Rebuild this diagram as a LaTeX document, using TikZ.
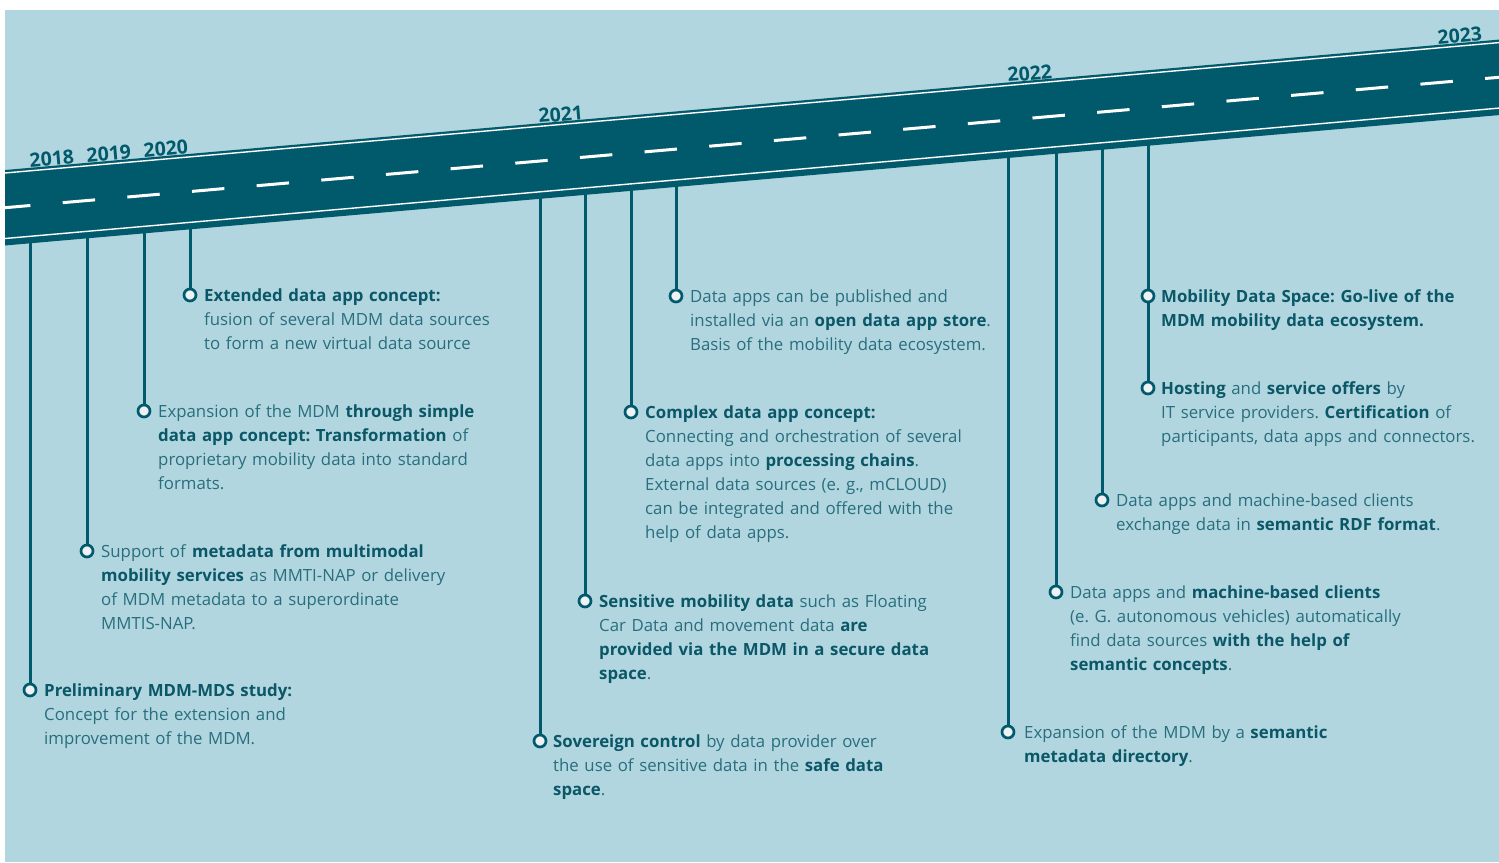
\documentclass[tikz,border=0pt]{standalone}
\usepackage{fontspec}
\setmainfont{Open Sans}
\usetikzlibrary{positioning}
\frenchspacing
\definecolor{sky}{HTML}{B2D6DF}
\definecolor{road}{HTML}{005A6B}
\definecolor{ink}{HTML}{286E7E}
\definecolor{inkdark}{HTML}{0A5767}
\definecolor{dot}{HTML}{EEF2F4}
\newcommand{\hl}[1]{\textbf{\color{inkdark}#1}}
\tikzset{
  stem/.style={draw=road, line width=3pt},
  milestone/.style={circle, draw=road, fill=dot, line width=2.7pt, minimum size=12pt, inner sep=0pt},
  entry/.style={anchor=base west, inner sep=0pt, text width=440pt, align=left, text=ink,
    font=\fontsize{16.8}{24}\selectfont},
  year/.style={anchor=base west, inner sep=0pt, text=road, rotate=4.99,
    font=\bfseries\fontsize{19.5}{20}\selectfont},
}
\begin{document}
\begin{tikzpicture}[x=1pt, y=-1pt]
\useasboundingbox (0,0) rectangle (1499,862);
\fill[white] (0,0) rectangle (1499,862);
\fill[sky] (5,10) rectangle (1499,862);

\fill[road] (5,170) -- (1499,39.6) -- (1499,115.1) -- (5,245.5) -- cycle;
\draw[white, line width=1.4pt] (5,173) -- (1499,42.6);
\draw[white, line width=1.4pt] (5,238.5) -- (1499,108.1);
\draw[white, line width=3pt, dash pattern=on 32.5pt off 32.4pt, dash phase=7pt] (5,207.7) -- (1499,77.3);

\node[year] (y2018) at (30,167.5) {2018};
\node[year] (y2019) at (87,162.5) {2019};
\node[year] (y2020) at (144,157.5) {2020};
\node[year] (y2021) at (539,123) {2021};
\node[year] (y2022) at (1008,82) {2022};
\node[year] (y2023) at (1438,44.5) {2023};

\coordinate (r1) at (30,241);
\coordinate (r2) at (87,236);
\coordinate (r3) at (144,231);
\coordinate (r4) at (190,227);
\coordinate (r5) at (540,197);
\coordinate (r6) at (585,193);
\coordinate (r7) at (631,189);
\coordinate (r8) at (676,185);
\coordinate (r9) at (1008,156);
\coordinate (r10) at (1056,152);
\coordinate (r11) at (1102,148);
\coordinate (r12) at (1148,144);

\node[milestone] (m1) at (30,690) {};
\node[milestone] (m2) at (87,551) {};
\node[milestone] (m3) at (144,411) {};
\node[milestone] (m4) at (190,295) {};
\node[milestone] (m5) at (540,741) {};
\node[milestone] (m6) at (585,601) {};
\node[milestone] (m7) at (631,412) {};
\node[milestone] (m8) at (676,296) {};
\node[milestone] (m9) at (1008,732) {};
\node[milestone] (m10) at (1056,592) {};
\node[milestone] (m11) at (1102,500) {};
\node[milestone] (m12) at (1148,388) {};
\node[milestone] (m13) at (1148,296) {};

\draw[stem] (r1) -- (m1.north);
\draw[stem] (r2) -- (m2.north);
\draw[stem] (r3) -- (m3.north);
\draw[stem] (r4) -- (m4.north);
\draw[stem] (r5) -- (m5.north);
\draw[stem] (r6) -- (m6.north);
\draw[stem] (r7) -- (m7.north);
\draw[stem] (r8) -- (m8.north);
\draw[stem] (r9) -- (m9.north);
\draw[stem] (r10) -- (m10.north);
\draw[stem] (r11) -- (m11.north);
\draw[stem] (r12) -- (m13.north);
\draw[stem] (m13.south) -- (m12.north);

\node[entry] (d1) at ([xshift=14pt, yshift=-6.5pt]m1) {\hl{Preliminary MDM-MDS study:}\\
  Concept for the extension and\\
  improvement of the MDM.};
\node[entry] (d2) at ([xshift=14pt, yshift=-6.5pt]m2) {Support of \hl{metadata from multimodal}\\
  \hl{mobility services} as MMTI-NAP or delivery\\
  of MDM metadata to a superordinate\\
  MMTIS-NAP.};
\node[entry] (d3) at ([xshift=14pt, yshift=-6.5pt]m3) {Expansion of the MDM \hl{through simple}\\
  \hl{data app concept: Transformation} of\\
  proprietary mobility data into standard\\
  formats.};
\node[entry] (d4) at ([xshift=14pt, yshift=-6.5pt]m4) {\hl{Extended data app concept:}\\
  fusion of several MDM data sources\\
  to form a new virtual data source};
\node[entry] (d5) at ([xshift=13pt, yshift=-6.5pt]m5) {\hl{Sovereign control} by data provider over\\
  the use of sensitive data in the \hl{safe data}\\
  \hl{space}.};
\node[entry] (d6) at ([xshift=14pt, yshift=-6.5pt]m6) {\hl{Sensitive mobility data} such as Floating\\
  Car Data and movement data \hl{are}\\
  \hl{provided via the MDM in a secure data}\\
  \hl{space}.};
\node[entry] (d7) at ([xshift=14pt, yshift=-6.5pt]m7) {\hl{Complex data app concept:}\\
  Connecting and orchestration of several\\
  data apps into \hl{processing chains}.\\
  External data sources (e. g., mCLOUD)\\
  can be integrated and offered with the\\
  help of data apps.};
\node[entry] (d8) at ([xshift=14pt, yshift=-6.5pt]m8) {Data apps can be published and\\
  installed via an \hl{open data app store}.\\
  Basis of the mobility data ecosystem.};
\node[entry] (d9) at ([xshift=16pt, yshift=-6.5pt]m9) {Expansion of the MDM by a \hl{semantic}\\
  \hl{metadata directory}.};
\node[entry] (d10) at ([xshift=14pt, yshift=-6.5pt]m10) {Data apps and \hl{machine-based clients}\\
  (e. G. autonomous vehicles) automatically\\
  find data sources \hl{with the help of}\\
  \hl{semantic concepts}.};
\node[entry] (d11) at ([xshift=14pt, yshift=-6.5pt]m11) {Data apps and machine-based clients\\
  exchange data in \hl{semantic RDF format}.};
\node[entry] (d12) at ([xshift=13pt, yshift=-6.5pt]m12) {\hl{Hosting} and \hl{service offers} by\\
  IT service providers. \hl{Certification} of\\
  participants, data apps and connectors.};
\node[entry] (d13) at ([xshift=13pt, yshift=-6.5pt]m13) {\hl{Mobility Data Space: Go-live of the}\\
  \hl{MDM mobility data ecosystem.}};
\end{tikzpicture}
\end{document}
